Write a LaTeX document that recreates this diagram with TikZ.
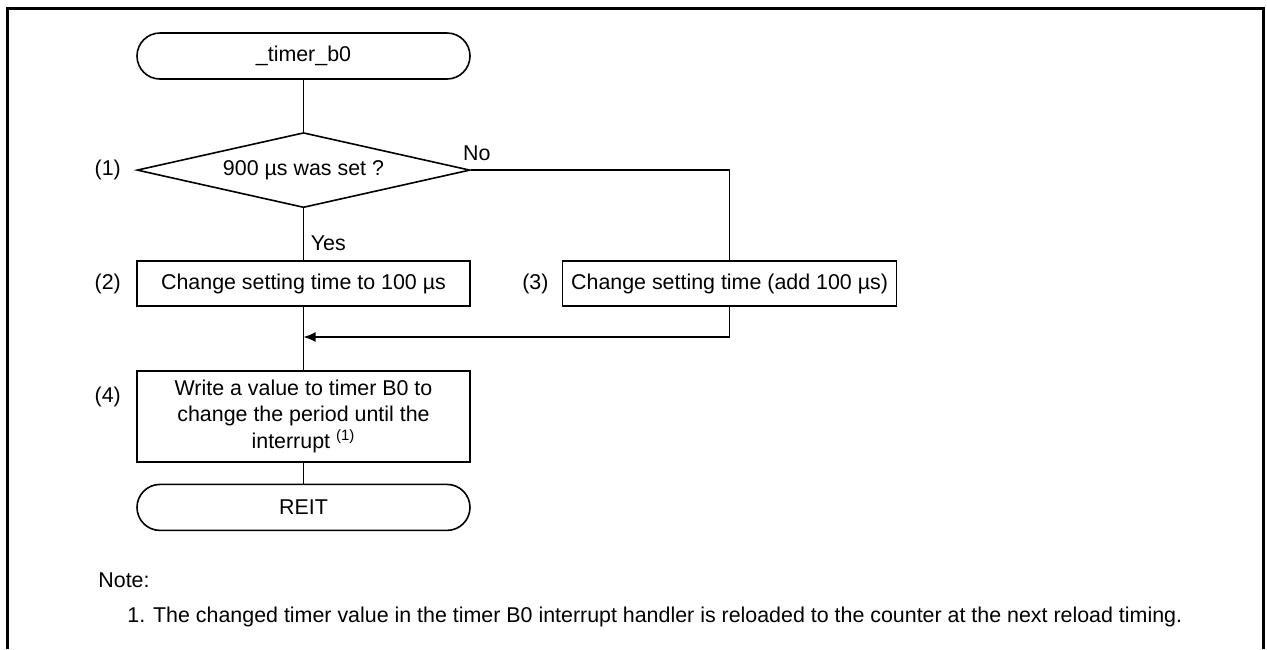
\documentclass[tikz,border=0pt]{standalone}
\usepackage{fontspec}
\setmainfont{Liberation Sans}
\usetikzlibrary{positioning,shapes.geometric,arrows.meta}

\begin{document}
\begin{tikzpicture}[
      x=0.5pt, y=-0.5pt,
      every node/.style={align=center, font=\fontsize{10.7}{13.2}\selectfont},
      terminal/.style={draw, line width=0.8pt, rounded corners=11.5pt, minimum width=166.5pt, minimum height=23pt},
      decision/.style={draw, diamond, line width=0.8pt, aspect=4.4, inner sep=0pt, minimum width=166.5pt, minimum height=37.5pt},
      process/.style={draw, line width=0.8pt, inner xsep=2pt, minimum width=166.5pt, minimum height=22.5pt},
      tag/.style={inner sep=0pt},
      line/.style={line width=0.8pt},
      arrow/.style={line width=0.8pt, -{Latex[length=6pt,width=5pt]}}
    ]
      \useasboundingbox (0,0) rectangle (1267,649);
      \draw[line width=1.5pt] (7,649) -- (7,8) -- (1263,8) -- (1263,649);

      \node[terminal] (start) at (303.5,56) {\_timer\_b0};
      \node[decision, below=26pt of start] (check) {900 µs was set ?};
      \node[process, below=26pt of check] (reset) {Change setting time to 100 µs};
      \node[process, right=45.5pt of reset, minimum width=167pt] (add) {Change setting time (add 100 µs)};
      \node[process, below=31.5pt of reset, minimum height=45.5pt] (write) {Write a value to timer B0 to\\change the period until the\\interrupt \textsuperscript{(1)}};
      \node[terminal, below=10.5pt of write] (reit) {REIT};

      % step numbers
      \node[tag, left=7.5pt of check] (lbl1) {(1)};
      \node[tag, left=7.5pt of reset] (lbl2) {(2)};
      \node[tag, left=6.5pt of add] (lbl3) {(3)};
      \node[tag, anchor=east] (lbl4) at ([xshift=-7.5pt,yshift=-13.5pt]write.north west) {(4)};

      % branch labels
      \node[tag, anchor=south west] (no) at ([xshift=-4pt,yshift=4.5pt]check.east) {No};
      \node[tag, anchor=base west] (yes) at ([xshift=3.5pt,yshift=5pt]reset.north) {Yes};

      \coordinate[below=15pt of reset.south] (join);

      \draw[line] (start) -- (check);
      \draw[line] (check) -- (reset);
      \draw[line] (reset) -- (write);
      \draw[line] (write) -- (reit);
      \draw[line] (check.east) -| (add.north);
      \draw[arrow] (add.south) |- (join);

      \node[tag, anchor=west] (note) at (98,580) {Note:};
      \node[tag, anchor=west] (noteone) at (127,617) {1. The changed timer value in the timer B0 interrupt handler is reloaded to the counter at the next reload timing.};

    \end{tikzpicture}
\end{document}
